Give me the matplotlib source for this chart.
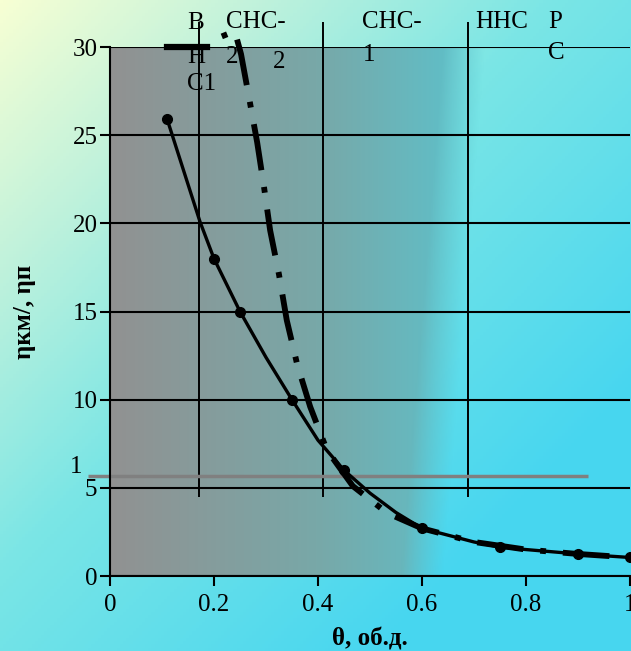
import numpy as np
import matplotlib
matplotlib.use("Agg")
import matplotlib.pyplot as plt

plt.rcParams['font.family'] = ['Liberation Serif', 'DejaVu Serif']

theta = [0.11, 0.173, 0.2, 0.25, 0.3, 0.35, 0.4, 0.45, 0.5, 0.55, 0.6, 0.7, 0.75, 0.8, 0.9, 0.95, 1.0]
eta = [25.9, 20.1, 18.0, 15.0, 12.4, 10.0, 7.7, 6.0, 4.7, 3.6, 2.7, 1.93, 1.64, 1.5, 1.25, 1.15, 1.05]
marked = [0, 2, 3, 5, 7, 10, 12, 14, 16]

# dash-dot curve
theta2 = [0.215, 0.240, 0.252, 0.267, 0.283, 0.296, 0.308, 0.325, 0.340, 0.360,
          0.385, 0.417, 0.467, 0.533, 0.6, 0.7, 0.8, 0.9, 1.0]
eta2 = [30.6, 30.9, 29.6, 27.2, 24.6, 22.1, 19.6, 17.1, 14.5, 12.0,
        9.6, 7.15, 5.1, 3.57, 2.7, 1.93, 1.5, 1.25, 1.05]

# zone boundaries and labels
bounds = [0.172, 0.409, 0.689]
y_ticks = [0, 5, 10, 15, 20, 25, 30]
x_ticks = [0, 0.2, 0.4, 0.6, 0.8, 1.0]
x_labels = ['0', '0.2', '0.4', '0.6', '0.8', '1']
ref_level = 5.67

fig = plt.figure(figsize=(6.31, 6.51), dpi=100)

# figure background gradient
bg = fig.add_axes([0, 0, 1, 1], zorder=-1)
n = 200
u = np.linspace(0, 1, n)[None, :]
v = np.linspace(0, 1, n)[:, None]
t = np.clip((u + v) / 1.6, 0, 1)
stops = [0.0, 0.25, 0.55, 1.0]
cols = [(0.97, 1.0, 0.83), (0.76, 0.95, 0.86), (0.48, 0.90, 0.90), (0.28, 0.84, 0.94)]
img = np.dstack([np.interp(t, stops, [c[i] for c in cols]) for i in range(3)])
bg.imshow(img, aspect='auto', extent=[0, 1, 0, 1], origin='upper')
bg.axis('off')

ax = fig.add_axes([0.1743, 0.1152, 0.8241, 0.8126])
ax.set_facecolor('none')
ax.set_xlim(0, 1)
ax.set_ylim(0, 30)

# plot area gradient (gray to teal, fading out towards the right)
xs = np.linspace(0, 1, 300)[None, :]
ys = np.linspace(30, 0, 100)[:, None]
xe = 0.64 + 0.08 * ys / 30
rs = np.interp(xs, [0, 0.4, 0.7], [0.57, 0.47, 0.36]) + 0 * ys
gs = np.interp(xs, [0, 0.4, 0.7], [0.57, 0.66, 0.76]) + 0 * ys
bs = np.interp(xs, [0, 0.4, 0.7], [0.57, 0.66, 0.80]) + 0 * ys
al = np.clip((xe - xs) / 0.08, 0, 1)
area = np.dstack([rs, gs, bs, al])
ax.imshow(area, aspect='auto', extent=[0, 1, 0, 30], zorder=0)

ax.yaxis.grid(True, color='black', lw=1.5, zorder=1)
ax.vlines(bounds, 4.48, 31.4, color='black', lw=1.4, clip_on=False, zorder=1)
ax.hlines(ref_level, -0.042, 0.92, color='#808080', lw=2.5, clip_on=False, zorder=2)

ax.plot(theta2, eta2, color='black', lw=4.2, linestyle=(0, (1, 2.9, 8, 2.9)),
        dash_capstyle='butt', clip_on=False, zorder=3)
ax.plot(theta, eta, color='black', lw=2.4, marker='o', ms=7,
        markevery=marked, clip_on=False, zorder=4)

# legend-like mark at top
ax.plot([0.11, 0.187], [30, 30], color='black', lw=4.5, clip_on=False, zorder=5)

fs = 18
ax.set_yticks(y_ticks)
ax.set_xticks(x_ticks)
ax.set_xticklabels(x_labels)
ax.tick_params(axis='y', direction='out', length=7, width=1.5, pad=2, labelsize=fs)
ax.tick_params(axis='x', direction='out', length=7, width=1.5, pad=6, labelsize=fs)
for s in ['top', 'right']:
    ax.spines[s].set_visible(False)
for s in ['left', 'bottom']:
    ax.spines[s].set_linewidth(1.5)

ax.text(-0.077, 6.2, '1', fontsize=fs, ha='left', va='center', clip_on=False)

ax.set_xlabel('θ, об.д.', fontsize=fs, fontweight='bold', labelpad=8)
ax.set_ylabel('ηкм/, ηп', fontsize=fs, fontweight='bold', labelpad=26)

# zone labels (as they appear, wrapped)
def lab(px, py, s):
    fig.text(px / 631, 1 - py / 651, s, fontsize=fs, ha='left', va='center')

lab(187, 23, 'В')
lab(187, 57, 'Н')
lab(187, 84, 'С1')
lab(226, 22, 'СНС-')
lab(226, 57, '2')
lab(273, 62, '2')
lab(362, 22, 'СНС-')
lab(363, 55, '1')
lab(475, 22, 'ННС')
lab(548, 22, 'Р')
lab(548, 53, 'С')

fig.savefig('out.png', dpi=100)
